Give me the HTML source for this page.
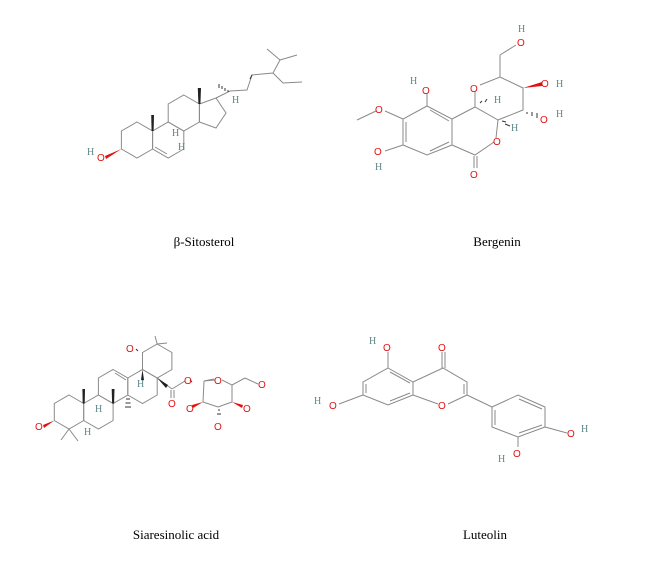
<!DOCTYPE html>
<html><head><meta charset="utf-8"><style>
html,body{margin:0;padding:0;background:#fff;}
svg{display:block;}
.b{stroke:#8a8a8a;stroke-width:1;fill:none;}
.o{fill:#e31010;font-family:"Liberation Sans",sans-serif;font-size:10px;}
.h{fill:#5f8585;font-family:"Liberation Serif",serif;font-size:10px;}
.l{fill:#000;font-family:"Liberation Serif",serif;font-size:13px;}
</style></head><body>
<svg width="650" height="566" viewBox="0 0 650 566" xmlns="http://www.w3.org/2000/svg">
<!-- beta-Sitosterol -->
<g class="b">
<polygon points="137,122 152.6,131 152.6,149 137,158 121.4,149 121.4,131"/>
<polygon points="168.2,122 183.8,131 183.8,149 168.2,158 152.6,149 152.6,131"/>
<polygon points="183.8,95 199.4,104 199.4,122 183.8,131 168.2,122 168.2,104"/>
<polygon points="199.4,104 199.4,122 216,128 226,113 216,98"/>
<line x1="167" y1="154" x2="155" y2="147"/>
<polyline points="216,98 230,91 247,90 252,75 273,73 280,60 267,49"/>
<line x1="280" y1="60" x2="297" y2="55"/>
<polyline points="273,73 283,83 302,82"/>
</g>
<polygon points="151.6,131 153.6,131 154,115 151.2,115" fill="#222"/>
<polygon points="198.4,104 200.4,104 201,88 197.8,88" fill="#222"/>
<polygon points="121.4,149 105,156 106,159" fill="#e31010"/>
<g stroke="#333" stroke-width="1">
<line x1="228" y1="90" x2="228" y2="92"/><line x1="225" y1="88" x2="225" y2="91"/><line x1="222" y1="86" x2="222" y2="89"/><line x1="219" y1="84" x2="219" y2="88"/>
<line x1="252" y1="75" x2="250" y2="79"/>
</g>
<text class="o" x="97" y="161">O</text><text class="h" x="87" y="155">H</text>
<text class="h" x="172" y="136" font-size="8">H</text>
<text class="h" x="178" y="150" font-size="8">H</text>
<text class="h" x="232" y="103" font-size="8">H</text>

<!-- Bergenin -->
<g class="b">
<polygon points="427,106 452,119 452,145 427,155 403,145 403,119"/>
<line x1="430" y1="110" x2="449" y2="121"/>
<line x1="406" y1="122" x2="406" y2="142"/>
<line x1="430" y1="151" x2="449" y2="142"/>
<polyline points="452,119 475,107 498,120 496,138"/>
<polyline points="494,142 475,155 452,145"/>
<line x1="474" y1="156" x2="474" y2="168"/><line x1="477" y1="156" x2="477" y2="168"/>
<polyline points="475,107 475,92"/>
<polyline points="480,85 500,77 523,88 523,110 498,120"/>
<line x1="427" y1="106" x2="427" y2="94"/>
<line x1="403" y1="119" x2="385" y2="111"/>
<line x1="376" y1="111" x2="357" y2="120"/>
<line x1="403" y1="145" x2="385" y2="151"/>
<line x1="500" y1="77" x2="500" y2="55"/>
<line x1="500" y1="55" x2="516" y2="45"/>
</g>
<polygon points="523,88 542,82 542,86" fill="#e31010"/>
<g stroke="#333"><line x1="527" y1="112" x2="527" y2="114"/><line x1="532" y1="112" x2="532" y2="116"/><line x1="537" y1="113" x2="537" y2="118"/>
<line x1="480" y1="103" x2="482" y2="101"/><line x1="485" y1="102" x2="487" y2="99"/>
<line x1="502" y1="121" x2="506" y2="122"/><line x1="505" y1="124" x2="510" y2="126"/></g>
<text class="o" x="422" y="94">O</text><text class="h" x="410" y="84">H</text>
<text class="o" x="375" y="113">O</text>
<text class="o" x="374" y="155">O</text><text class="h" x="375" y="170">H</text>
<text class="o" x="470" y="92">O</text>
<text class="o" x="493" y="145">O</text>
<text class="o" x="470" y="178">O</text>
<text class="o" x="517" y="46">O</text><text class="h" x="518" y="32">H</text>
<text class="o" x="541" y="87">O</text><text class="h" x="556" y="87">H</text>
<text class="o" x="540" y="123">O</text><text class="h" x="556" y="117">H</text>
<text class="h" x="494" y="103" font-size="8">H</text>
<text class="h" x="511" y="131" font-size="8">H</text>

<!-- Siaresinolic acid -->
<g class="b">
<polygon points="69,395 83.7,403.5 83.7,420.5 69,429 54.3,420.5 54.3,403.5"/>
<polygon points="98.4,395 113.1,403.5 113.1,420.5 98.4,429 83.7,420.5 83.7,403.5"/>
<polygon points="113.1,369.5 127.8,378 127.8,395 113.1,403.5 98.4,395 98.4,378"/>
<polygon points="142.5,369.5 157.2,378 157.2,395 142.5,403.5 127.8,395 127.8,378"/>
<polygon points="157.2,344 171.9,352.5 171.9,369.5 157.2,378 142.5,369.5 142.5,352.5"/>
<line x1="115" y1="373" x2="126" y2="380"/>
<line x1="69" y1="429" x2="61" y2="440"/><line x1="69" y1="429" x2="78" y2="441"/>
<line x1="157.2" y1="344" x2="155" y2="336"/><line x1="157.2" y1="344" x2="167" y2="343"/>
<line x1="157.2" y1="378" x2="172" y2="389"/>
<line x1="171" y1="390" x2="171" y2="398"/><line x1="174" y1="390" x2="174" y2="398"/>
<line x1="172" y1="389" x2="185" y2="381"/>
<polygon points="204,381 215,380"/>
<line x1="204" y1="381" x2="214" y2="379"/>
<polyline points="222,380 232,385 232,402 218,407 203,402 204,381"/>
<line x1="232" y1="385" x2="245" y2="378"/><line x1="245" y1="378" x2="258" y2="384"/>
</g>
<polygon points="82.7,403.5 84.7,403.5 85,389 82.4,389" fill="#222"/>
<polygon points="112.1,403.5 114.1,403.5 114.5,389 111.7,389" fill="#222"/>
<polygon points="157.2,378 168,385 166,388" fill="#222"/>
<polygon points="54.3,420.5 43,425 44,428" fill="#e31010"/>
<polygon points="203,402 192,405 193,408" fill="#e31010"/>
<polygon points="232,402 243,405 242,408" fill="#e31010"/>
<polygon points="142.5,369.5 141,380 144,380" fill="#222"/>
<g stroke="#333"><line x1="126" y1="399" x2="130" y2="399"/><line x1="125.5" y1="403" x2="130.5" y2="403"/><line x1="125" y1="407" x2="131" y2="407"/>
<line x1="218" y1="410" x2="220" y2="410"/><line x1="217" y1="414" x2="221" y2="414"/>
<line x1="190" y1="380" x2="192" y2="382"/><line x1="136" y1="349" x2="138" y2="351"/></g>
<text class="o" x="35" y="430">O</text>
<text class="o" x="126" y="352">O</text>
<text class="o" x="184" y="384">O</text>
<text class="o" x="168" y="407">O</text>
<text class="o" x="214" y="384">O</text>
<text class="o" x="258" y="388">O</text>
<text class="o" x="186" y="412">O</text>
<text class="o" x="214" y="430">O</text>
<text class="o" x="243" y="412">O</text>
<text class="h" x="95" y="412" font-size="8">H</text>
<text class="h" x="84" y="435" font-size="8">H</text>
<text class="h" x="137" y="387" font-size="8">H</text>

<!-- Luteolin -->
<g class="b">
<polygon points="388,368 413,382 413,395 388,405 363,395 363,382"/>
<line x1="390" y1="372" x2="410" y2="383"/>
<line x1="366" y1="384" x2="366" y2="393"/>
<line x1="390" y1="401" x2="410" y2="393"/>
<line x1="388" y1="368" x2="388" y2="352"/>
<line x1="363" y1="395" x2="339" y2="404"/>
<polyline points="413,382 443,368 467,382 467,395 448,404"/>
<line x1="438" y1="404" x2="413" y2="395"/>
<line x1="442" y1="368" x2="442" y2="352"/><line x1="445" y1="368" x2="445" y2="352"/>
<line x1="464" y1="384" x2="464" y2="394"/>
<line x1="467" y1="395" x2="492" y2="407"/>
<polygon points="492,407 518,395 545,407 545,427 518,437 492,427"/>
<line x1="519" y1="399" x2="542" y2="409"/>
<line x1="542" y1="425" x2="519" y2="433"/>
<line x1="495" y1="410" x2="495" y2="425"/>
<line x1="545" y1="427" x2="567" y2="433"/>
<line x1="518" y1="437" x2="518" y2="447"/>
</g>
<text class="o" x="383" y="351">O</text><text class="h" x="369" y="344">H</text>
<text class="o" x="329" y="409">O</text><text class="h" x="314" y="404">H</text>
<text class="o" x="438" y="351">O</text>
<text class="o" x="438" y="409">O</text>
<text class="o" x="567" y="437">O</text><text class="h" x="581" y="432">H</text>
<text class="o" x="513" y="457">O</text><text class="h" x="498" y="462">H</text>

<!-- Labels -->
<text class="l" x="204" y="246" text-anchor="middle">β-Sitosterol</text>
<text class="l" x="497" y="246" text-anchor="middle">Bergenin</text>
<text class="l" x="176" y="539" text-anchor="middle">Siaresinolic acid</text>
<text class="l" x="485" y="539" text-anchor="middle">Luteolin</text>
</svg>
</body></html>
